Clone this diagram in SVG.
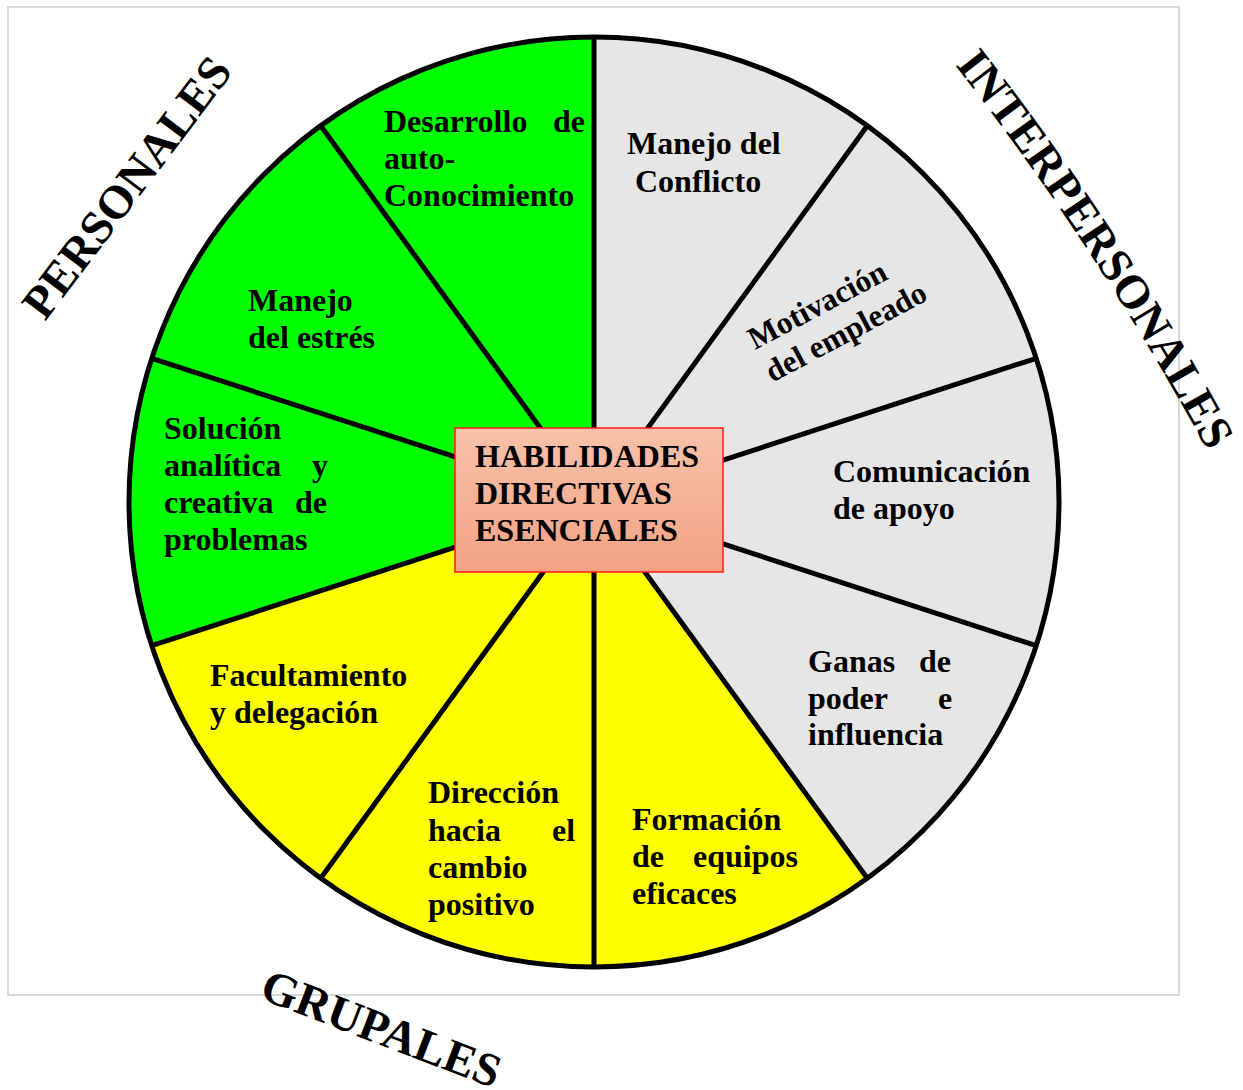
<svg xmlns="http://www.w3.org/2000/svg" width="1243" height="1090" viewBox="0 0 1243 1090">
<style>
.t{font-family:"Liberation Serif","Times New Roman",serif;font-weight:bold;font-size:32px;fill:#000}
.big{font-family:"Liberation Serif","Times New Roman",serif;font-weight:bold;font-size:47px;fill:#000}
.g{fill:#00ff00}
.y{fill:#ffff00}
.s{fill:#e6e6e6}
.div{stroke:#000;stroke-width:5;fill:none}
</style>
<defs>
<linearGradient id="boxg" x1="0" y1="0" x2="0" y2="1">
<stop offset="0" stop-color="#f8c2aa"/>
<stop offset="1" stop-color="#f2a283"/>
</linearGradient>
<path id="interArc" d="M 955,65 Q 1097,247 1208,452"/>
</defs>
<rect x="8" y="7" width="1171" height="988" fill="#fff" stroke="#d9d9d9" stroke-width="2"/>

<g id="s-desarrollo"><path class="g" d="M594,502 L320.7,125.8 A465,465 0 0 1 594,37 Z"/>
<text class="t"><tspan x="384" y="132">Desarrollo</tspan><tspan x="553" y="132">de</tspan><tspan x="384" y="169">auto-</tspan><tspan x="384" y="206">Conocimiento</tspan></text></g>
<g id="s-estres"><path class="g" d="M594,502 L151.7,358.3 A465,465 0 0 1 320.7,125.8 Z"/>
<text class="t"><tspan x="248" y="311">Manejo</tspan><tspan x="248" y="348">del estrés</tspan></text></g>
<g id="s-solucion"><path class="g" d="M594,502 L151.7,645.7 A465,465 0 0 1 151.7,358.3 Z"/>
<text class="t"><tspan x="164" y="439">Solución</tspan><tspan x="164" y="476">analítica</tspan><tspan x="312" y="476">y</tspan><tspan x="164" y="513">creativa</tspan><tspan x="295" y="513">de</tspan><tspan x="164" y="550">problemas</tspan></text></g>
<g id="s-facultamiento"><path class="y" d="M594,502 L320.7,878.2 A465,465 0 0 1 151.7,645.7 Z"/>
<text class="t"><tspan x="210" y="686">Facultamiento</tspan><tspan x="210" y="723">y delegación</tspan></text></g>
<g id="s-direccion"><path class="y" d="M594,502 L594,967 A465,465 0 0 1 320.7,878.2 Z"/>
<text class="t"><tspan x="428" y="803">Dirección</tspan><tspan x="428" y="841">hacia</tspan><tspan x="552" y="841">el</tspan><tspan x="428" y="878">cambio</tspan><tspan x="428" y="915">positivo</tspan></text></g>
<g id="s-formacion"><path class="y" d="M594,502 L867.3,878.2 A465,465 0 0 1 594,967 Z"/>
<text class="t"><tspan x="632" y="830">Formación</tspan><tspan x="632" y="867">de</tspan><tspan x="693" y="867">equipos</tspan><tspan x="632" y="904">eficaces</tspan></text></g>
<g id="s-ganas"><path class="s" d="M594,502 L1036.3,645.7 A465,465 0 0 1 867.3,878.2 Z"/>
<text class="t"><tspan x="808" y="672">Ganas</tspan><tspan x="919" y="672">de</tspan><tspan x="808" y="709">poder</tspan><tspan x="938" y="709">e</tspan><tspan x="808" y="745">influencia</tspan></text></g>
<g id="s-comunicacion"><path class="s" d="M594,502 L1036.3,358.3 A465,465 0 0 1 1036.3,645.7 Z"/>
<text class="t"><tspan x="833" y="482">Comunicación</tspan><tspan x="833" y="519">de apoyo</tspan></text></g>
<g id="s-motivacion"><path class="s" d="M594,502 L867.3,125.8 A465,465 0 0 1 1036.3,358.3 Z"/>
<text class="t" transform="translate(755,350) rotate(-28)" style="font-size:31.5px"><tspan x="0" y="0">Motivación</tspan><tspan x="0" y="37">del empleado</tspan></text></g>
<g id="s-conflicto"><path class="s" d="M594,502 L594,37 A465,465 0 0 1 867.3,125.8 Z"/>
<text class="t"><tspan x="627" y="154">Manejo del</tspan><tspan x="635" y="192">Conflicto</tspan></text></g>

<g id="connectors">
<circle class="div" cx="594" cy="502" r="465"/>
<path class="div" d="M594,37 L594,967 M867.3,125.8 L320.7,878.2 M1036.3,358.3 L151.7,645.7 M1036.3,645.7 L151.7,358.3 M867.3,878.2 L320.7,125.8"/>
</g>

<g id="center">
<rect x="455" y="428" width="268" height="144" fill="url(#boxg)" stroke="#ff1a1a" stroke-width="1.5"/>
<text class="t"><tspan x="475" y="467">HABILIDADES</tspan><tspan x="475" y="504">DIRECTIVAS</tspan><tspan x="475" y="541">ESENCIALES</tspan></text>
</g>

<g id="label-personales"><text class="big" transform="translate(45,322) rotate(-53)">PERSONALES</text></g>
<g id="label-interpersonales"><text class="big"><textPath href="#interArc">INTERPERSONALES</textPath></text></g>
<g id="label-grupales"><text class="big" transform="translate(258,998) rotate(21)">GRUPALES</text></g>
</svg>
